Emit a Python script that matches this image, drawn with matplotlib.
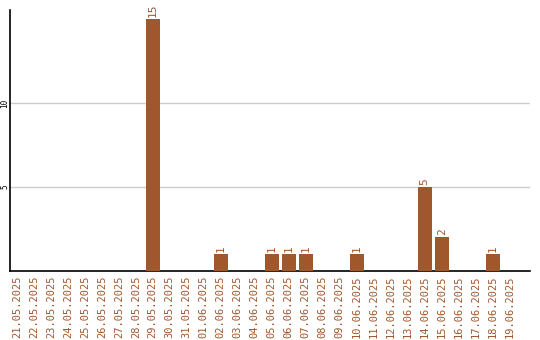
import matplotlib.pyplot as plt
import pandas as pd

dates = pd.date_range('2025-05-21', '2025-06-19').strftime('%d.%m.%Y').tolist()
counts = {'29.05.2025': 15, '02.06.2025': 1, '05.06.2025': 1, '06.06.2025': 1,
          '07.06.2025': 1, '10.06.2025': 1, '14.06.2025': 5, '15.06.2025': 2,
          '18.06.2025': 1}
values = [counts.get(d, 0) for d in dates]
yticks = [5, 10]

color = '#a0572b'
plt.rcParams['font.family'] = 'DejaVu Sans Mono'

fig = plt.figure(figsize=(5.4, 3.4), dpi=100)
ax = fig.add_axes([10 / 540, 69 / 340, 520 / 540, 261 / 340])

x = list(range(len(dates)))
bars = ax.bar(x, values, width=0.82, color=color, zorder=3)

for xi, v in zip(x, values):
    if v > 0:
        ax.text(xi, v + 0.15, str(v), rotation=90, ha='center', va='bottom',
                color=color, fontsize=8)

ax.set_xlim(-0.4, 30.2)
ax.set_ylim(0, 15.55)
ax.set_xticks(x)
ax.set_xticklabels(dates, rotation=90, color=color, fontsize=7.5)
ax.tick_params(axis='x', length=0, pad=3)
ax.set_yticks(yticks)
ax.set_yticklabels([str(t) for t in yticks], rotation=90, fontsize=5.5, va='center')
ax.tick_params(axis='y', length=0, pad=0.5)
ax.yaxis.grid(True, color='#cccccc', linewidth=1, zorder=0)
ax.spines['top'].set_visible(False)
ax.spines['right'].set_visible(False)
ax.spines['left'].set_linewidth(1.2)
ax.spines['bottom'].set_linewidth(1.2)

fig.savefig('out.png', dpi=100)
